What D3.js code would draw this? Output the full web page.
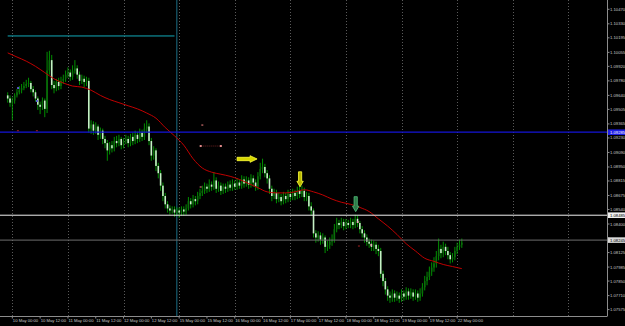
<!DOCTYPE html>
<html>
<head>
<meta charset="utf-8">
<script src="https://cdn.jsdelivr.net/npm/d3@7"></script>
<style>
  html, body { margin: 0; padding: 0; background: #000; overflow: hidden; }
  text { font-family: "Liberation Sans", "DejaVu Sans", sans-serif; }
</style>
</head>
<body>
<svg id="chart" width="625" height="326"></svg>
<script>
// EURUSD H1, first bar 9 May 22:00 (opens follow the previous close)
const firstOpen = 1.0964;
const closes = [
  1.0961,1.0957,1.0959,1.0964,1.0967,1.0969,1.0971,1.0973,1.0975,1.0976,
  1.0970,1.0967,1.0961,1.0955,1.0953,1.0959,1.0951,1.0988,1.0998,1.0974,
  1.0971,1.0977,1.0973,1.0978,1.0980,1.0984,1.0986,1.0982,1.0988,1.0990,
  1.0984,1.0978,1.0980,1.0977,1.0978,1.0932,1.0936,1.0930,1.0934,1.0926,
  1.0930,1.0922,1.0918,1.0911,1.0916,1.0913,1.0920,1.0918,1.0922,1.0916,
  1.0920,1.0922,1.0918,1.0924,1.0920,1.0926,1.0922,1.0928,1.0924,1.0932,
  1.0934,1.0920,1.0906,1.0911,1.0896,1.0889,1.0877,1.0867,1.0859,1.0855,
  1.0853,1.0854,1.0851,1.0853,1.0851,1.0854,1.0852,1.0855,1.0862,1.0859,
  1.0864,1.0862,1.0867,1.0870,1.0872,1.0876,1.0874,1.0878,1.0876,1.0882,
  1.0874,1.0877,1.0872,1.0876,1.0874,1.0878,1.0875,1.0879,1.0876,1.0880,
  1.0877,1.0883,1.0879,1.0882,1.0878,1.0884,1.0880,1.0876,1.0886,1.0893,
  1.0895,1.0889,1.0884,1.0874,1.0867,1.0870,1.0864,1.0866,1.0862,1.0867,
  1.0864,1.0869,1.0866,1.0870,1.0867,1.0872,1.0869,1.0872,1.0866,1.0867,
  1.0857,1.0853,1.0831,1.0827,1.0829,1.0825,1.0827,1.0818,1.0820,1.0823,
  1.0825,1.0835,1.0841,1.0839,1.0842,1.0838,1.0841,1.0839,1.0842,1.0839,
  1.0845,1.0841,1.0835,1.0831,1.0827,1.0823,1.0821,1.0818,1.0820,1.0816,
  1.0814,1.0792,1.0785,1.0777,1.0771,1.0769,1.0773,1.0769,1.0771,1.0768,
  1.0773,1.0770,1.0775,1.0771,1.0774,1.0770,1.0773,1.0769,1.0773,1.0779,
  1.0785,1.0789,1.0794,1.0798,1.0802,1.0809,1.0816,1.0812,1.0818,1.0814,
  1.0810,1.0806,1.0808,1.0814,1.0818,1.0820,1.0822
];
const highs = [
  1.0967,1.0964,1.0962,1.0966,1.0970,1.0973,1.0975,1.0977,1.0979,1.0981,
  1.0978,1.0973,1.0969,1.0963,1.0958,1.0962,1.0961,1.1006,1.1007,1.1003,
  1.0978,1.0980,1.0981,1.0982,1.0984,1.0988,1.0991,1.0989,1.0993,1.0998,
  1.0993,1.0987,1.0984,1.0983,1.0982,1.0981,1.0940,1.0939,1.0938,1.0936,
  1.0933,1.0932,1.0925,1.0921,1.0919,1.0920,1.0924,1.0925,1.0926,1.0924,
  1.0923,1.0926,1.0925,1.0927,1.0928,1.0930,1.0929,1.0932,1.0931,1.0937,
  1.0940,1.0937,1.0923,1.0915,1.0913,1.0899,1.0892,1.0880,1.0870,1.0862,
  1.0858,1.0857,1.0857,1.0856,1.0856,1.0857,1.0857,1.0859,1.0866,1.0865,
  1.0868,1.0867,1.0871,1.0874,1.0877,1.0880,1.0879,1.0883,1.0881,1.0890,
  1.0885,1.0881,1.0880,1.0879,1.0879,1.0881,1.0882,1.0883,1.0882,1.0884,
  1.0883,1.0887,1.0886,1.0886,1.0885,1.0888,1.0887,1.0883,1.0890,1.0899,
  1.0903,1.0898,1.0892,1.0887,1.0877,1.0874,1.0873,1.0870,1.0869,1.0871,
  1.0870,1.0873,1.0872,1.0874,1.0873,1.0876,1.0878,1.0877,1.0875,1.0871,
  1.0870,1.0861,1.0855,1.0834,1.0833,1.0832,1.0831,1.0829,1.0824,1.0827,
  1.0830,1.0840,1.0846,1.0844,1.0846,1.0845,1.0845,1.0844,1.0846,1.0845,
  1.0849,1.0848,1.0843,1.0838,1.0834,1.0830,1.0826,1.0825,1.0824,1.0823,
  1.0820,1.0817,1.0795,1.0788,1.0780,1.0775,1.0777,1.0776,1.0775,1.0774,
  1.0777,1.0776,1.0779,1.0778,1.0778,1.0777,1.0777,1.0776,1.0778,1.0783,
  1.0790,1.0794,1.0799,1.0803,1.0808,1.0814,1.0826,1.0820,1.0823,1.0821,
  1.0818,1.0813,1.0812,1.0818,1.0822,1.0825,1.0826
];
const lows = [
  1.0957,1.0953,1.0940,1.0956,1.0962,1.0965,1.0966,1.0969,1.0971,1.0972,
  1.0967,1.0963,1.0958,1.0950,1.0946,1.0950,1.0943,1.0947,1.0984,1.0970,
  1.0966,1.0968,1.0969,1.0970,1.0975,1.0977,1.0981,1.0978,1.0979,1.0985,
  1.0980,1.0974,1.0975,1.0972,1.0973,1.0928,1.0927,1.0926,1.0927,1.0921,
  1.0922,1.0917,1.0913,1.0901,1.0907,1.0909,1.0910,1.0914,1.0915,1.0912,
  1.0913,1.0917,1.0914,1.0915,1.0916,1.0917,1.0918,1.0919,1.0920,1.0921,
  1.0928,1.0916,1.0901,1.0902,1.0891,1.0884,1.0872,1.0862,1.0855,1.0851,
  1.0849,1.0850,1.0847,1.0848,1.0846,1.0848,1.0848,1.0849,1.0853,1.0855,
  1.0856,1.0858,1.0859,1.0864,1.0867,1.0869,1.0870,1.0871,1.0872,1.0873,
  1.0870,1.0871,1.0868,1.0869,1.0870,1.0871,1.0872,1.0872,1.0873,1.0873,
  1.0874,1.0874,1.0875,1.0876,1.0874,1.0875,1.0876,1.0872,1.0873,1.0883,
  1.0889,1.0885,1.0879,1.0869,1.0862,1.0864,1.0860,1.0861,1.0858,1.0859,
  1.0860,1.0861,1.0862,1.0863,1.0863,1.0864,1.0865,1.0866,1.0862,1.0862,
  1.0853,1.0848,1.0827,1.0822,1.0823,1.0820,1.0821,1.0812,1.0814,1.0816,
  1.0819,1.0822,1.0832,1.0835,1.0836,1.0834,1.0835,1.0836,1.0836,1.0835,
  1.0836,1.0837,1.0831,1.0827,1.0822,1.0819,1.0817,1.0814,1.0814,1.0811,
  1.0809,1.0788,1.0780,1.0772,1.0766,1.0764,1.0765,1.0765,1.0766,1.0764,
  1.0765,1.0766,1.0767,1.0767,1.0768,1.0766,1.0767,1.0765,1.0766,1.0770,
  1.0776,1.0781,1.0786,1.0790,1.0794,1.0798,1.0805,1.0807,1.0808,1.0810,
  1.0806,1.0802,1.0803,1.0805,1.0811,1.0815,1.0817
];

// moving average, read every 4th bar
const maIndex = [0,4,8,12,16,20,24,28,32,36,40,44,48,52,56,60,64,68,72,76,80,84,88,92,96,
  100,104,108,112,116,120,124,128,132,136,140,144,148,152,156,160,164,168,172,176,180,184,188,192,196];
const maValues = [
  1.1005,1.1001,1.0997,1.0992,1.0986,1.0980,1.0976,1.0973,1.0972,1.0969,
  1.0964,1.0960,1.0957,1.0954,1.0951,1.0947,1.0942,1.0933,1.0925,1.0916,
  1.0903,1.0894,1.0890,1.0888,1.0886,1.0883,1.0879,1.0875,1.0871,1.0870,
  1.0870,1.0871,1.0873,1.0871,1.0868,1.0864,1.0861,1.0859,1.0856,1.0852,
  1.0845,1.0838,1.0830,1.0821,1.0814,1.0807,1.0804,1.0801,1.0799,1.0797
];

const priceTicks = ["1.10470","1.10330","1.10195","1.10055","1.09920","1.09780","1.09640",
  "1.09505","1.09365","1.09230","1.09090","1.08950","1.08815","1.08675","1.08540","1.08400",
  "1.08265","1.08125","1.07985","1.07850","1.07710","1.07575"];
const timeTicks = ["10 May 00:00","10 May 12:00","11 May 00:00","11 May 12:00","12 May 00:00",
  "12 May 12:00","15 May 00:00","15 May 12:00","16 May 00:00","16 May 12:00","17 May 00:00",
  "17 May 12:00","18 May 00:00","18 May 12:00","19 May 00:00","19 May 12:00","22 May 00:00"];
const timeTickIndex = [2,14,26,38,50,62,74,86,98,110,122,134,146,158,170,182,194];
const dayIndex = [2,26,50,74,98,122,146,170,194,218,242];

// chart objects
const hLinePrices = [1.09285, 1.08485, 1.08245];
const trendStart = [0, 1.10213];
const trendEnd = [72, 1.10213];
const vLineIndex = 73;
const rightArrow = [99, 1.09027];
const downArrows = [[126.2, 1.08759], [150.2, 1.08519]];
const dotSegment = [[83.3, 1.09152], [92, 1.09152]];
const smallMarks = [[84, 1.09354], [83.3, 1.08757], [151.2, 1.08420], [156.8, 1.08198], [151.6, 1.08188],
  [4.4, 1.09300], [12.6, 1.09300]];
const blueMarks = [[4.5, 1.09711], [12.6, 1.09586]];

const svg = d3.select('#chart');
const W = 625, H = 326, plotR = 607.5, plotB = 316;

svg.append('rect').attr('width', W).attr('height', H).attr('fill', '#000');

const x = d3.scaleLinear().domain([0, closes.length - 1]).range([7.7, 461.8]);
const y = d3.scaleLinear()
  .domain([+priceTicks[priceTicks.length - 1], +priceTicks[0]])
  .range([309.6, 9.3]);

const plot = svg.append('g');

// day separators
plot.selectAll('line.grid')
  .data(dayIndex)
  .enter()
  .append('line')
  .attr('x1', d => Math.round(x(d)) + 0.5)
  .attr('x2', d => Math.round(x(d)) + 0.5)
  .attr('y1', 0)
  .attr('y2', plotB)
  .attr('stroke', '#5a5a5a')
  .attr('stroke-dasharray', '1,2');

// vertical teal line
plot.append('line')
  .attr('x1', x(vLineIndex)).attr('x2', x(vLineIndex))
  .attr('y1', 0).attr('y2', plotB)
  .attr('stroke', '#1b6f86').attr('stroke-width', 1);

// candles
const bars = closes.map((c, i) => ({
  i: i,
  o: i === 0 ? firstOpen : closes[i - 1],
  c: c,
  h: highs[i],
  l: lows[i]
}));

plot.selectAll('line.wick')
  .data(bars)
  .enter()
  .append('line')
  .attr('x1', d => x(d.i)).attr('x2', d => x(d.i))
  .attr('y1', d => y(d.h)).attr('y2', d => y(d.l))
  .attr('stroke', '#00b400').attr('stroke-width', 0.8);

plot.selectAll('rect.body')
  .data(bars)
  .enter()
  .append('rect')
  .attr('x', d => x(d.i) - 0.8)
  .attr('width', 1.6)
  .attr('y', d => y(Math.max(d.o, d.c)))
  .attr('height', d => Math.max(0.8, Math.abs(y(d.o) - y(d.c))))
  .attr('fill', d => (d.c >= d.o ? '#0a6e0a' : '#c6f0c6'));

// moving average
const ma = maIndex.map((d, k) => [d, maValues[k]]);
plot.append('path')
  .datum(ma)
  .attr('fill', 'none')
  .attr('stroke', '#c00000')
  .attr('stroke-width', 1)
  .attr('d', d3.line().x(d => x(d[0])).y(d => y(d[1])).curve(d3.curveMonotoneX));

// horizontal lines
const hStyles = [
  { color: '#1414d8', bg: '#1e1ee6', fg: '#ffffff', width: 1.2 },
  { color: '#f0f0f0', bg: '#f0f0f0', fg: '#000000', width: 1 },
  { color: '#6e6e6e', bg: '#d8d8d8', fg: '#000000', width: 1 }
];
hLinePrices.forEach((p, k) => {
  plot.append('line')
    .attr('x1', 0).attr('x2', plotR)
    .attr('y1', y(p)).attr('y2', y(p))
    .attr('stroke', hStyles[k].color)
    .attr('stroke-width', hStyles[k].width);
});

// cyan trend line
plot.append('line')
  .attr('x1', x(trendStart[0])).attr('x2', x(trendEnd[0]))
  .attr('y1', y(trendStart[1])).attr('y2', y(trendEnd[1]))
  .attr('stroke', '#12a9b8').attr('stroke-width', 1);

// dotted segment with end marks
plot.append('line')
  .attr('x1', x(dotSegment[0][0])).attr('x2', x(dotSegment[1][0]))
  .attr('y1', y(dotSegment[0][1])).attr('y2', y(dotSegment[1][1]))
  .attr('stroke', '#a03030').attr('stroke-width', 0.7).attr('stroke-dasharray', '1,1');
plot.selectAll('rect.segEnd')
  .data(dotSegment)
  .enter()
  .append('rect')
  .attr('x', d => x(d[0]) - 1).attr('y', d => y(d[1]) - 1)
  .attr('width', 2).attr('height', 2)
  .attr('fill', '#e08a8a');

plot.selectAll('rect.mark')
  .data(smallMarks)
  .enter()
  .append('rect')
  .attr('x', d => x(d[0]) - 1).attr('y', d => y(d[1]) - 0.6)
  .attr('width', 2).attr('height', 1.2)
  .attr('fill', (d, k) => (k < 2 ? '#d07070' : k < 4 ? '#e090a0' : '#8a1a1a'));

plot.selectAll('rect.bmark')
  .data(blueMarks)
  .enter()
  .append('rect')
  .attr('x', d => x(d[0]) - 1).attr('y', d => y(d[1]) - 1)
  .attr('width', 2).attr('height', 2)
  .attr('fill', '#5a5ad0');

// arrows
plot.append('path')
  .attr('transform', 'translate(' + x(rightArrow[0]) + ',' + y(rightArrow[1]) + ')')
  .attr('d', 'M0,-1.7L13,-1.7L13,-3.3L20,0L13,3.3L13,1.7L0,1.7Z')
  .attr('fill', '#d6d600').attr('stroke', '#ffff3a').attr('stroke-width', 0.8);

plot.selectAll('path.down')
  .data(downArrows)
  .enter()
  .append('path')
  .attr('transform', d => 'translate(' + x(d[0]) + ',' + y(d[1]) + ')')
  .attr('d', 'M-1.6,-15L1.6,-15L1.6,-5.5L3.2,-5.5L0,0L-3.2,-5.5L-1.6,-5.5Z')
  .attr('fill', (d, k) => (k === 0 ? '#b8b800' : '#2d7a48'))
  .attr('stroke', (d, k) => (k === 0 ? '#ffff3a' : '#52c27a'))
  .attr('stroke-width', 0.8);

// axes
const axis = svg.append('g');
axis.append('line')
  .attr('x1', plotR).attr('x2', plotR).attr('y1', 0).attr('y2', plotB)
  .attr('stroke', '#8c8c8c');
axis.append('line')
  .attr('x1', 0).attr('x2', plotR).attr('y1', plotB + 0.5).attr('y2', plotB + 0.5)
  .attr('stroke', '#8c8c8c');

// tick labels hidden under a line's price label are not shown
const shownTicks = priceTicks.filter(t => hLinePrices.every(p => Math.abs(y(p) - y(+t)) > 5));

axis.selectAll('line.ptick')
  .data(priceTicks)
  .enter()
  .append('line')
  .attr('x1', plotR).attr('x2', plotR + 2)
  .attr('y1', d => y(+d)).attr('y2', d => y(+d))
  .attr('stroke', '#8c8c8c');

axis.selectAll('text.ptick')
  .data(shownTicks)
  .enter()
  .append('text')
  .attr('x', 610)
  .attr('y', d => y(+d) + 1.5)
  .attr('font-size', 4.2)
  .attr('fill', '#c8c8c8')
  .text(d => d);

axis.selectAll('line.ttick')
  .data(timeTickIndex)
  .enter()
  .append('line')
  .attr('x1', d => x(d)).attr('x2', d => x(d))
  .attr('y1', plotB).attr('y2', plotB + 2.5)
  .attr('stroke', '#8c8c8c');

axis.selectAll('text.ttick')
  .data(timeTicks)
  .enter()
  .append('text')
  .attr('x', (d, k) => x(timeTickIndex[k]) + 0.5)
  .attr('y', 321.5)
  .attr('font-size', 4.2)
  .attr('fill', '#c8c8c8')
  .text(d => d);

// price labels of the horizontal lines
hLinePrices.forEach((p, k) => {
  axis.append('rect')
    .attr('x', plotR + 0.5).attr('y', y(p) - 2.8)
    .attr('width', W - plotR).attr('height', 5.6)
    .attr('fill', hStyles[k].bg);
  axis.append('text')
    .attr('x', 610).attr('y', y(p) + 1.5)
    .attr('font-size', 4.2)
    .attr('fill', hStyles[k].fg)
    .text(p.toFixed(5));
});
</script>
</body>
</html>
